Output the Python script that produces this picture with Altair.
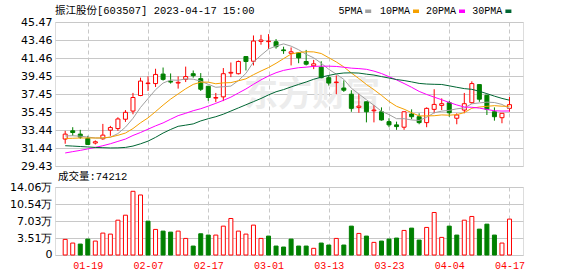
import altair as alt
import pandas as pd

dates = ["01-16","01-17","01-18","01-19","01-20","01-30","01-31","02-01","02-02","02-03",
         "02-06","02-07","02-08","02-09","02-10","02-13","02-14","02-15","02-16","02-17",
         "02-20","02-21","02-22","02-23","02-24","02-27","02-28","03-01","03-02","03-03",
         "03-06","03-07","03-08","03-09","03-10","03-13","03-14","03-15","03-16","03-17",
         "03-20","03-21","03-22","03-23","03-24","03-27","03-28","03-29","03-30","03-31",
         "04-03","04-04","04-06","04-07","04-10","04-11","04-12","04-13","04-14","04-17"]

opens = [32.43, 33.35, 32.98, 32.50, 31.99, 32.46, 33.42, 33.60, 34.64, 35.55,
         37.28, 38.61, 38.61, 39.67, 38.86, 38.67, 39.08, 39.71, 39.16, 38.31,
         36.99, 37.13, 39.78, 39.71, 41.62, 41.10, 43.31, 43.28, 43.27, 42.36,
         41.98, 42.03, 41.07, 40.59, 40.44, 39.27, 38.72, 38.12, 37.43, 35.96,
         36.58, 35.58, 35.47, 34.37, 34.01, 33.75, 35.22, 34.92, 34.26, 35.74,
         36.18, 36.48, 34.75, 35.66, 36.48, 38.50, 37.32, 35.47, 34.81, 35.85]
highs = [33.35, 33.75, 33.46, 32.79, 32.28, 34.12, 33.90, 34.86, 35.66, 37.57,
         39.27, 39.41, 40.26, 40.40, 39.74, 39.41, 40.50, 40.07, 39.78, 38.31,
         37.57, 40.34, 40.96, 41.18, 41.62, 43.97, 44.04, 44.12, 43.57, 42.72,
         42.64, 42.10, 42.36, 41.25, 41.10, 39.52, 39.52, 38.97, 37.87, 37.47,
         36.60, 36.22, 35.96, 34.75, 34.37, 35.50, 35.74, 35.30, 35.96, 37.98,
         36.96, 36.66, 35.30, 37.57, 38.86, 38.50, 37.32, 35.96, 35.30, 37.13]
lows = [31.91, 32.80, 32.46, 31.77, 31.83, 32.35, 32.79, 33.35, 34.34, 35.19,
        37.21, 37.79, 38.23, 38.94, 38.61, 38.05, 38.78, 39.27, 37.79, 36.69,
        36.54, 36.66, 39.33, 39.63, 40.07, 40.63, 42.94, 42.47, 42.50, 41.92,
        40.63, 40.88, 40.63, 40.22, 39.20, 38.39, 37.43, 37.68, 35.47, 35.36,
        34.29, 34.29, 34.48, 33.75, 33.46, 33.46, 34.64, 34.08, 33.75, 35.30,
        35.66, 34.92, 34.08, 35.30, 36.37, 36.58, 35.11, 34.48, 34.19, 35.47]
closes = [32.98, 33.16, 32.65, 31.83, 32.13, 32.87, 33.71, 34.67, 35.41, 37.06,
          38.89, 38.67, 39.63, 39.08, 38.78, 38.75, 39.39, 39.49, 37.98, 37.06,
          37.06, 39.71, 39.86, 41.07, 41.07, 43.35, 43.46, 43.34, 42.72, 42.28,
          42.15, 41.47, 40.77, 40.81, 39.27, 38.67, 38.78, 37.87, 35.85, 36.10,
          35.47, 35.66, 34.56, 34.01, 33.82, 35.47, 34.92, 34.26, 35.85, 36.29,
          36.37, 35.36, 35.11, 36.37, 38.61, 36.87, 35.74, 34.92, 35.30, 36.26]
volumes = [32300, 24700, 22600, 32900, 28800, 45300, 43200, 72000, 82300, 131700,
           124100, 70000, 52900, 49400, 47300, 49400, 34300, 18500, 43900, 41200,
           41200, 59700, 75500, 49400, 43200, 61800, 34300, 39100, 18500, 16500,
           32900, 18500, 18500, 13800, 24700, 20600, 34300, 20600, 59700, 44600,
           39100, 26100, 28800, 32900, 35000, 50800, 55600, 30900, 57000, 87900,
           36400, 59700, 41200, 72000, 79700, 53500, 63800, 41200, 24700, 74212]
vol_up = [1, 1, 0, 0, 1, 1, 1, 1, 1, 1,
          1, 0, 1, 0, 0, 1, 1, 0, 0, 0,
          1, 1, 1, 1, 1, 1, 1, 0, 0, 0,
          0, 0, 0, 1, 0, 0, 1, 0, 0, 1,
          0, 1, 0, 0, 0, 1, 0, 0, 1, 1,
          1, 0, 0, 1, 1, 0, 0, 0, 1, 1]

ma5 = [32.78, 32.80, 32.75, 32.65, 32.55, 32.53, 32.64, 33.04, 33.76, 34.74,
       35.95, 36.94, 37.93, 38.67, 39.01, 38.98, 39.13, 39.10, 38.88, 38.53,
       38.20, 38.26, 38.33, 38.95, 39.75, 41.01, 41.76, 42.46, 42.79, 43.03,
       42.78, 42.38, 41.87, 41.48, 40.88, 40.20, 39.66, 39.08, 38.09, 37.45,
       36.81, 36.19, 35.53, 35.16, 34.70, 34.70, 34.56, 34.50, 34.86, 35.36,
       35.54, 35.63, 35.80, 35.90, 36.36, 36.46, 36.54, 36.50, 36.29, 35.82]
ma10 = [32.50, 32.52, 32.55, 32.55, 32.55, 32.56, 32.65, 32.85, 33.10, 33.60,
        34.24, 34.79, 35.49, 36.21, 36.88, 37.46, 38.03, 38.52, 38.77, 38.77,
        38.59, 38.69, 38.72, 38.92, 39.14, 39.60, 40.01, 40.40, 40.87, 41.39,
        41.90, 42.07, 42.16, 42.14, 41.96, 41.49, 41.02, 40.47, 39.79, 39.17,
        38.51, 37.93, 37.30, 36.62, 36.08, 35.76, 35.37, 35.01, 35.01, 35.03,
        35.12, 35.09, 35.15, 35.38, 35.86, 36.00, 36.08, 36.15, 36.09, 36.09]
ma20 = [30.88, 31.03, 31.17, 31.33, 31.50, 31.69, 31.91, 32.17, 32.43, 32.83,
        33.16, 33.53, 33.90, 34.23, 34.64, 35.04, 35.30, 35.59, 35.81, 36.10,
        36.41, 36.74, 37.10, 37.56, 38.01, 38.53, 39.02, 39.46, 39.82, 40.08,
        40.24, 40.38, 40.44, 40.53, 40.55, 40.55, 40.52, 40.43, 40.33, 40.28,
        40.20, 40.00, 39.73, 39.38, 39.02, 38.62, 38.20, 37.74, 37.40, 37.10,
        36.81, 36.51, 36.23, 36.00, 35.97, 35.88, 35.73, 35.58, 35.55, 35.56]
ma30 = [31.69, 31.65, 31.60, 31.55, 31.50, 31.47, 31.44, 31.45, 31.50, 31.65,
        31.90, 32.20, 32.62, 33.10, 33.50, 33.85, 33.98, 34.12, 34.45, 34.70,
        34.92, 35.20, 35.55, 35.90, 36.25, 36.60, 36.95, 37.35, 37.70, 37.94,
        38.24, 38.52, 38.79, 39.09, 39.33, 39.52, 39.69, 39.79, 39.81, 39.78,
        39.66, 39.56, 39.39, 39.23, 39.06, 38.95, 38.80, 38.63, 38.56, 38.53,
        38.51, 38.36, 38.20, 38.05, 37.97, 37.75, 37.49, 37.21, 36.96, 36.76]

price_min, price_max = 29.43, 45.47
price_labels = ["29.43", "31.44", "33.44", "35.45", "37.45", "39.45", "41.46", "43.46", "45.47"]
vol_max = 140600
vol_labels = ["0", "3.51万", "7.03万", "10.54万", "14.06万"]
date_tick_idx = [3, 11, 19, 27, 35, 43, 51, 59]
ma_names = ["5PMA", "10PMA", "20PMA", "30PMA"]
ma_colors = ["#a0a0a0", "#f5a000", "#ff00ff", "#006633"]
header = "振江股份[603507] 2023-04-17 15:00"
vol_title = "成交量:74212"
watermark = "东方财富"

RED = "#ff0000"
GREEN = "#008000"
N = len(dates)

df = pd.DataFrame({"i": list(range(N)), "date": dates, "open": opens, "high": highs,
                   "low": lows, "close": closes, "vol": volumes,
                   "vup": [bool(v) for v in vol_up]})
df["up"] = df["close"] >= df["open"]

ma = pd.DataFrame({
    "i": list(range(N)) * 4,
    "line": sum([[n] * N for n in ma_names], []),
    "v": ma5 + ma10 + ma20 + ma30,
})

# evenly spaced gridline positions for the tick labels
p_step = (price_max - price_min) / (len(price_labels) - 1)
price_tick_pos = [price_min + k * p_step for k in range(len(price_labels))]
v_step = vol_max / (len(vol_labels) - 1)
vol_tick_pos = [max(k * v_step, 1) for k in range(len(vol_labels))]


def js_list(items):
    return "[" + ",".join("'%s'" % s for s in items) + "]"


W, H1, H2 = 468, 144, 68
xscale = alt.Scale(domain=[-0.69, 60.13], nice=False, zero=False)
pscale = alt.Scale(domain=[price_min, price_max], nice=False, zero=False)
GRID = "#c8c8c8"

x_top = alt.X("i:Q", scale=xscale,
              axis=alt.Axis(values=date_tick_idx, labels=False, ticks=False, domain=False,
                            grid=True, gridDash=[4, 3], gridColor=GRID, title=None))
price_axis = alt.Axis(values=price_tick_pos, ticks=False, domain=False,
                      labelExpr=js_list(price_labels) +
                      "[round((datum.value - %r) / %r)]" % (price_min, p_step),
                      labelFont="DejaVu Sans", labelFontSize=11, labelColor="#000000",
                      labelPadding=3, labelOverlap=False, labelBound=False, labelFlush=False,
                      labelSeparation=0, grid=True, gridColor=GRID, gridWidth=1, title=None)

updown_stroke = alt.condition("datum.up", alt.value(RED), alt.value(GREEN))
updown_fill = alt.condition("datum.up", alt.value("#ffffff"), alt.value(GREEN))


def txt(text, x, y, size=10.5, font="Liberation Mono, Noto Sans CJK SC", color="#000000",
        align="left", weight="normal"):
    return alt.Chart(pd.DataFrame({"t": [text]})).mark_text(
        align=align, baseline="middle", font=font, fontSize=size, color=color,
        fontWeight=weight
    ).encode(text="t:N", x=alt.value(x), y=alt.value(y))


def swatch(x, color):
    return alt.Chart(pd.DataFrame({"a": [0]})).mark_rect(color=color).encode(
        x=alt.value(x), x2=alt.value(x + 6), y=alt.value(-12.5), y2=alt.value(-9)
    )


wm = txt(watermark, 257, 74, size=34, font="Noto Sans CJK SC", color="#ececec",
         align="center", weight="bold")

wicks = alt.Chart(df).mark_rule(strokeWidth=1).encode(
    x=x_top, y=alt.Y("low:Q", scale=pscale, axis=price_axis), y2="high:Q",
    color=updown_stroke)
bodies = alt.Chart(df).mark_bar(width=4, strokeWidth=1).encode(
    x=x_top, y=alt.Y("open:Q", scale=pscale, axis=price_axis), y2="close:Q",
    fill=updown_fill, stroke=updown_stroke)
lines = alt.Chart(ma).mark_line(strokeWidth=1).encode(
    x=x_top, y=alt.Y("v:Q", scale=pscale, axis=price_axis),
    color=alt.Color("line:N", scale=alt.Scale(domain=ma_names, range=ma_colors), legend=None),
    detail="line:N")

leg_x = [283.6, 325, 371, 417.2]
sw_x = [310.2, 358, 404, 450.4]
legend_layers = []
for name, col, lx, sx in zip(ma_names, ma_colors, leg_x, sw_x):
    legend_layers.append(txt(name, lx, -11, size=10, font="Liberation Mono"))
    legend_layers.append(swatch(sx, col))

top = alt.layer(wm, wicks, bodies, lines, txt(header, 0, -11), *legend_layers).properties(
    width=W, height=H1)

x_bot = alt.X("i:Q", scale=xscale,
              axis=alt.Axis(values=date_tick_idx,
                            labelExpr=js_list(dates) + "[datum.value]",
                            labelColor=RED, labelFont="Liberation Mono", labelFontSize=10,
                            ticks=False, domain=False, labelPadding=5, grid=True,
                            gridDash=[4, 3], gridColor=GRID, title=None))
y_vol = alt.Y("vol:Q", scale=alt.Scale(domain=[0, vol_max], nice=False, zero=False),
              axis=alt.Axis(values=vol_tick_pos,
                            labelExpr=js_list(vol_labels) + "[round(datum.value / %r)]" % v_step,
                            ticks=False, domain=False, labelFont="DejaVu Sans", labelFontSize=11,
                            labelColor="#000000", labelPadding=3, labelOverlap=False,
                            labelBound=False, labelFlush=False, labelSeparation=0, grid=True,
                            gridColor=GRID, gridWidth=1, title=None))
vol_fill = alt.condition("datum.vup", alt.value("#ffffff"), alt.value(GREEN))
vol_stroke = alt.condition("datum.vup", alt.value(RED), alt.value(GREEN))
vbars = alt.Chart(df).mark_bar(width=4, strokeWidth=1).encode(
    x=x_bot, y=y_vol, y2=alt.datum(0), fill=vol_fill, stroke=vol_stroke)

bottom = alt.layer(vbars, txt(vol_title, 3, -10)).properties(width=W, height=H2)

chart = alt.vconcat(top, bottom, spacing=21, bounds="flush").properties(
    padding={"left": 9, "top": 5, "right": 5, "bottom": 2}
).configure_view(stroke="#999999", strokeWidth=1).configure(background="#ffffff")

chart.save("out.html", embed_options={"renderer": "svg", "actions": False})
